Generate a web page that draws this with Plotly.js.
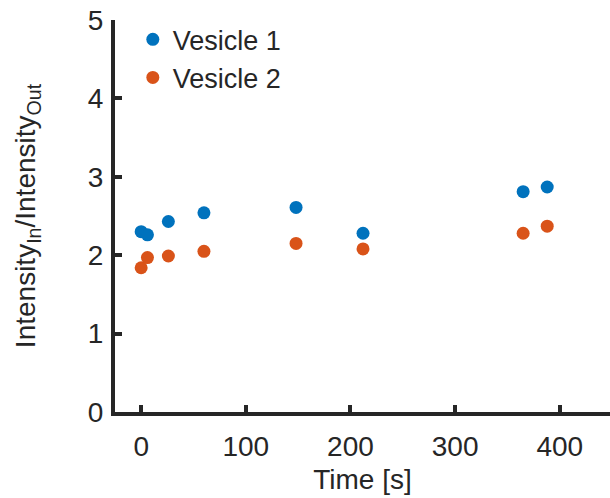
<!DOCTYPE html>
<html>
<head>
<meta charset="utf-8">
<script src="https://cdn.plot.ly/plotly-3.0.1.min.js"></script>
<style>html,body{margin:0;padding:0;background:#fff;}#chart{width:610px;height:498px;}</style>
</head>
<body>
<div id="chart"></div>
<script>
var timeV1 = [0, 6, 26, 60, 148, 212, 365, 388];
var valuesV1 = [2.30, 2.26, 2.43, 2.54, 2.61, 2.28, 2.81, 2.87];
var timeV2 = [0, 6, 26, 60, 148, 212, 365, 388];
var valuesV2 = [1.84, 1.97, 1.99, 2.05, 2.15, 2.08, 2.28, 2.37];
var seriesNames = ['Vesicle 1', 'Vesicle 2'];
var xTicks = [0, 100, 200, 300, 400];
var yTicks = [0, 1, 2, 3, 4, 5];

var fontFam = 'Liberation Sans, Arial, sans-serif';
var ink = '#262626';

var traces = [
  {x: timeV1, y: valuesV1, name: seriesNames[0], mode: 'markers', type: 'scatter',
   marker: {color: '#0072BD', size: 13}},
  {x: timeV2, y: valuesV2, name: seriesNames[1], mode: 'markers', type: 'scatter',
   marker: {color: '#D95319', size: 13}}
];

var layout = {
  width: 610, height: 498,
  margin: {l: 115, r: 0, t: 20, b: 86},
  paper_bgcolor: '#fff', plot_bgcolor: '#fff',
  font: {family: fontFam, color: ink, size: 28},
  showlegend: true,
  legend: {x: 0.036, y: 1.012, xanchor: 'left', yanchor: 'top', bgcolor: 'rgba(0,0,0,0)',
           font: {size: 27, color: ink}, tracegroupgap: 0},
  xaxis: {
    range: [-25, 448], tickvals: xTicks, ticktext: xTicks.map(String),
    showgrid: false, zeroline: false, showline: true, linecolor: ink, linewidth: 4,
    ticks: 'inside', ticklen: 7, tickwidth: 4, tickcolor: ink,
    tickfont: {size: 28, color: ink}, ticklabelstandoff: 6,
    title: {text: 'Time [s]', font: {size: 28, color: ink}, standoff: 10}
  },
  yaxis: {
    range: [0, 5], tickvals: yTicks, ticktext: yTicks.map(String),
    showgrid: false, zeroline: false, showline: true, linecolor: ink, linewidth: 4,
    ticks: 'inside', ticklen: 7, tickwidth: 4, tickcolor: ink,
    tickfont: {size: 28, color: ink}, ticklabelstandoff: 2,
    title: {text: 'Intensity<sub>In</sub>/Intensity<sub>Out</sub>', font: {size: 28, color: ink}, standoff: 45}
  }
};

Plotly.newPlot('chart', traces, layout, {displayModeBar: false, staticPlot: true});
</script>
</body>
</html>
